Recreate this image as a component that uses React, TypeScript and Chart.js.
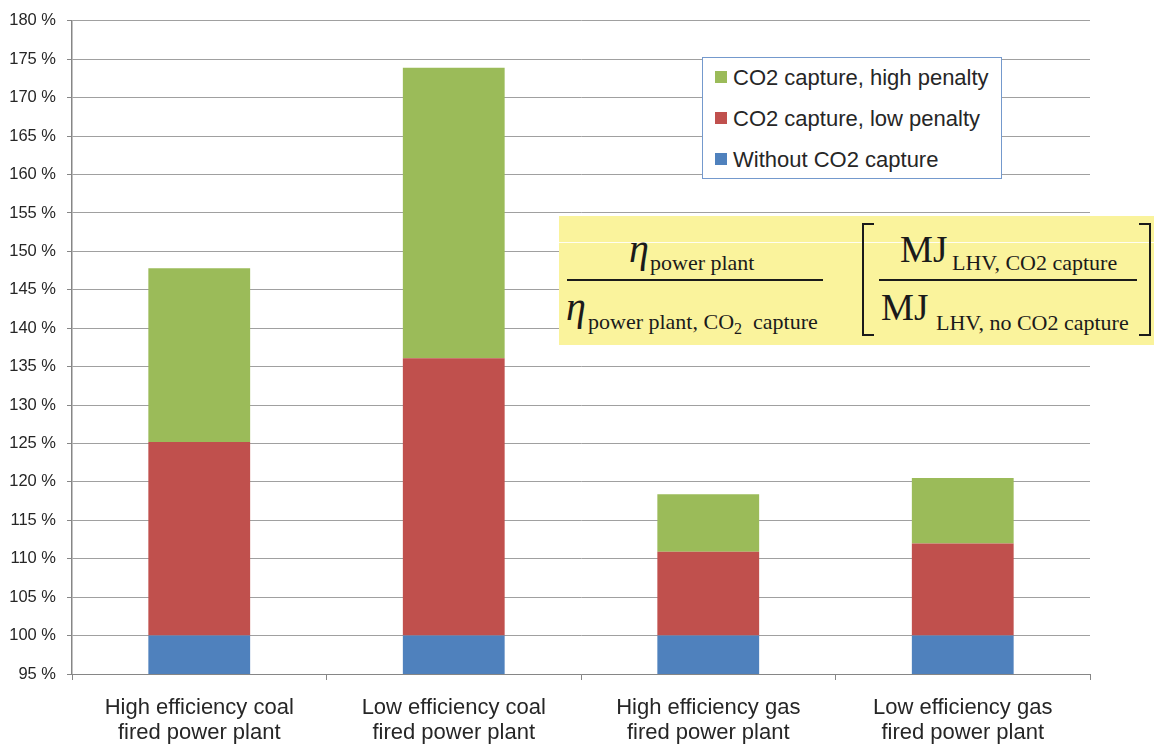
import React, { useEffect, useRef } from "react";
import { Chart, registerables } from "chart.js";

Chart.register(...registerables);

// Plant types on the category axis (two-line labels)
const plantTypes: string[][] = [
  ["High efficiency coal", "fired power plant"],
  ["Low efficiency coal", "fired power plant"],
  ["High efficiency gas", "fired power plant"],
  ["Low efficiency gas", "fired power plant"],
];

// Relative fuel use, % of the plant without capture
const withoutCapture = [100, 100, 100, 100];
const lowPenaltyTotal = [125.2, 136.1, 110.9, 112.0];
const highPenaltyTotal = [147.8, 173.9, 118.4, 120.5];

const yMin = 95;
const yMax = 180;
const yStep = 5;

const seriesNames = [
  "Without CO2 capture",
  "CO2 capture, low penalty",
  "CO2 capture, high penalty",
];
const seriesColors = ["#4f81bd", "#c0504d", "#9bbb59"];

const SANS = "'Liberation Sans', Arial, sans-serif";
const SERIF = "'Liberation Serif', 'Times New Roman', serif";
const AXIS_GREY = "#868686";
const GRID_GREY = "#a0a0a0";
const TEXT = "#262626";

function FormulaBox() {
  return (
    <svg
      width={1154}
      height={745}
      style={{ position: "absolute", left: 0, top: 0, pointerEvents: "none" }}
    >
      {/* legend */}
      <rect x={702.5} y={57.5} width={299} height={121} fill="#ffffff" stroke="#7499cd" strokeWidth={1} />
      {[2, 1, 0].map((s, row) => (
        <g key={s}>
          <rect x={715} y={71 + row * 41} width={12} height={12} fill={seriesColors[s]} />
          <text x={733} y={85 + row * 41} fontFamily={SANS} fontSize={22} fill={TEXT}>
            {seriesNames[s]}
          </text>
        </g>
      ))}

      {/* efficiency ratio expression */}
      <rect x={559} y={216} width={595} height={129} fill="#faf39c" />
      <line x1={559} y1={242.5} x2={1154} y2={242.5} stroke="#ffffff" strokeOpacity={0.85} strokeWidth={1} />

      <text x={629} y={262} fontFamily={SERIF} fontStyle="italic" fontSize={40} fill="#1a1a1a">η</text>
      <text x={650} y={270} fontFamily={SERIF} fontSize={22} fill="#1a1a1a">power plant</text>
      <line x1={567} y1={280} x2={823} y2={280} stroke="#1a1a1a" strokeWidth={2} />
      <text x={566} y={320} fontFamily={SERIF} fontStyle="italic" fontSize={40} fill="#1a1a1a">η</text>
      <text x={588} y={329} fontFamily={SERIF} fontSize={22} fill="#1a1a1a">
        power plant, CO
        <tspan fontSize={16} dy={5}>2</tspan>
        <tspan fontSize={22} dy={-5} dx={11}>capture</tspan>
      </text>

      <path d="M874 224 H863 V335 H874" fill="none" stroke="#1a1a1a" strokeWidth={2} />
      <path d="M1139 224 H1150 V335 H1139" fill="none" stroke="#1a1a1a" strokeWidth={2} />
      <text x={900} y={262} fontFamily={SERIF} fontSize={37} fill="#1a1a1a">MJ</text>
      <text x={952} y={270} fontFamily={SERIF} fontSize={22} fill="#1a1a1a">LHV, CO2 capture</text>
      <line x1={879} y1={280} x2={1137} y2={280} stroke="#1a1a1a" strokeWidth={2} />
      <text x={881} y={320} fontFamily={SERIF} fontSize={37} fill="#1a1a1a">MJ</text>
      <text x={936} y={330} fontFamily={SERIF} fontSize={22} fill="#1a1a1a">LHV, no CO2 capture</text>
    </svg>
  );
}

export default function App() {
  const canvasRef = useRef<HTMLCanvasElement | null>(null);

  useEffect(() => {
    if (!canvasRef.current) return;

    const lowPenaltyPart = lowPenaltyTotal.map((t, i) => +(t - withoutCapture[i]).toFixed(2));
    const highPenaltyPart = highPenaltyTotal.map((t, i) => +(t - lowPenaltyTotal[i]).toFixed(2));

    const chart = new Chart(canvasRef.current, {
      type: "bar",
      data: {
        labels: plantTypes,
        datasets: [
          { label: seriesNames[0], data: withoutCapture, backgroundColor: seriesColors[0] },
          { label: seriesNames[1], data: lowPenaltyPart, backgroundColor: seriesColors[1] },
          { label: seriesNames[2], data: highPenaltyPart, backgroundColor: seriesColors[2] },
        ],
      },
      options: {
        responsive: false,
        animation: false,
        layout: { padding: { left: 0, top: 18, right: 64, bottom: 0 } },
        datasets: {
          bar: { categoryPercentage: 1, barPercentage: 0.4, borderWidth: 0 },
        },
        plugins: {
          legend: { display: false },
          tooltip: { enabled: false },
          title: { display: false },
        },
        scales: {
          x: {
            stacked: true,
            offset: true,
            grid: {
              offset: true,
              drawOnChartArea: false,
              drawTicks: true,
              tickLength: 6,
              color: AXIS_GREY,
            },
            border: { display: true, color: AXIS_GREY, width: 1 },
            ticks: {
              color: TEXT,
              padding: 15,
              maxRotation: 0,
              autoSkip: false,
              font: { family: SANS, size: 22, lineHeight: 1.15 },
            },
            afterFit: (scale: any) => {
              scale.height = 71;
            },
          },
          y: {
            stacked: true,
            min: yMin,
            max: yMax,
            grid: {
              color: GRID_GREY,
              lineWidth: 1,
              drawTicks: true,
              tickLength: 5,
              tickColor: AXIS_GREY,
            },
            border: { display: true, color: AXIS_GREY, width: 1.5 },
            ticks: {
              stepSize: yStep,
              color: TEXT,
              padding: 11,
              font: { family: SANS, size: 16.5 },
              callback: (v: any) => `${v} %`,
            },
            afterFit: (scale: any) => {
              scale.width = 72;
            },
          },
        },
      },
    });

    return () => chart.destroy();
  }, []);

  return (
    <div style={{ position: "absolute", left: 0, top: 0, width: 1154, height: 745, background: "#ffffff" }}>
      <canvas ref={canvasRef} width={1154} height={745} style={{ display: "block" }} />
      <FormulaBox />
    </div>
  );
}
